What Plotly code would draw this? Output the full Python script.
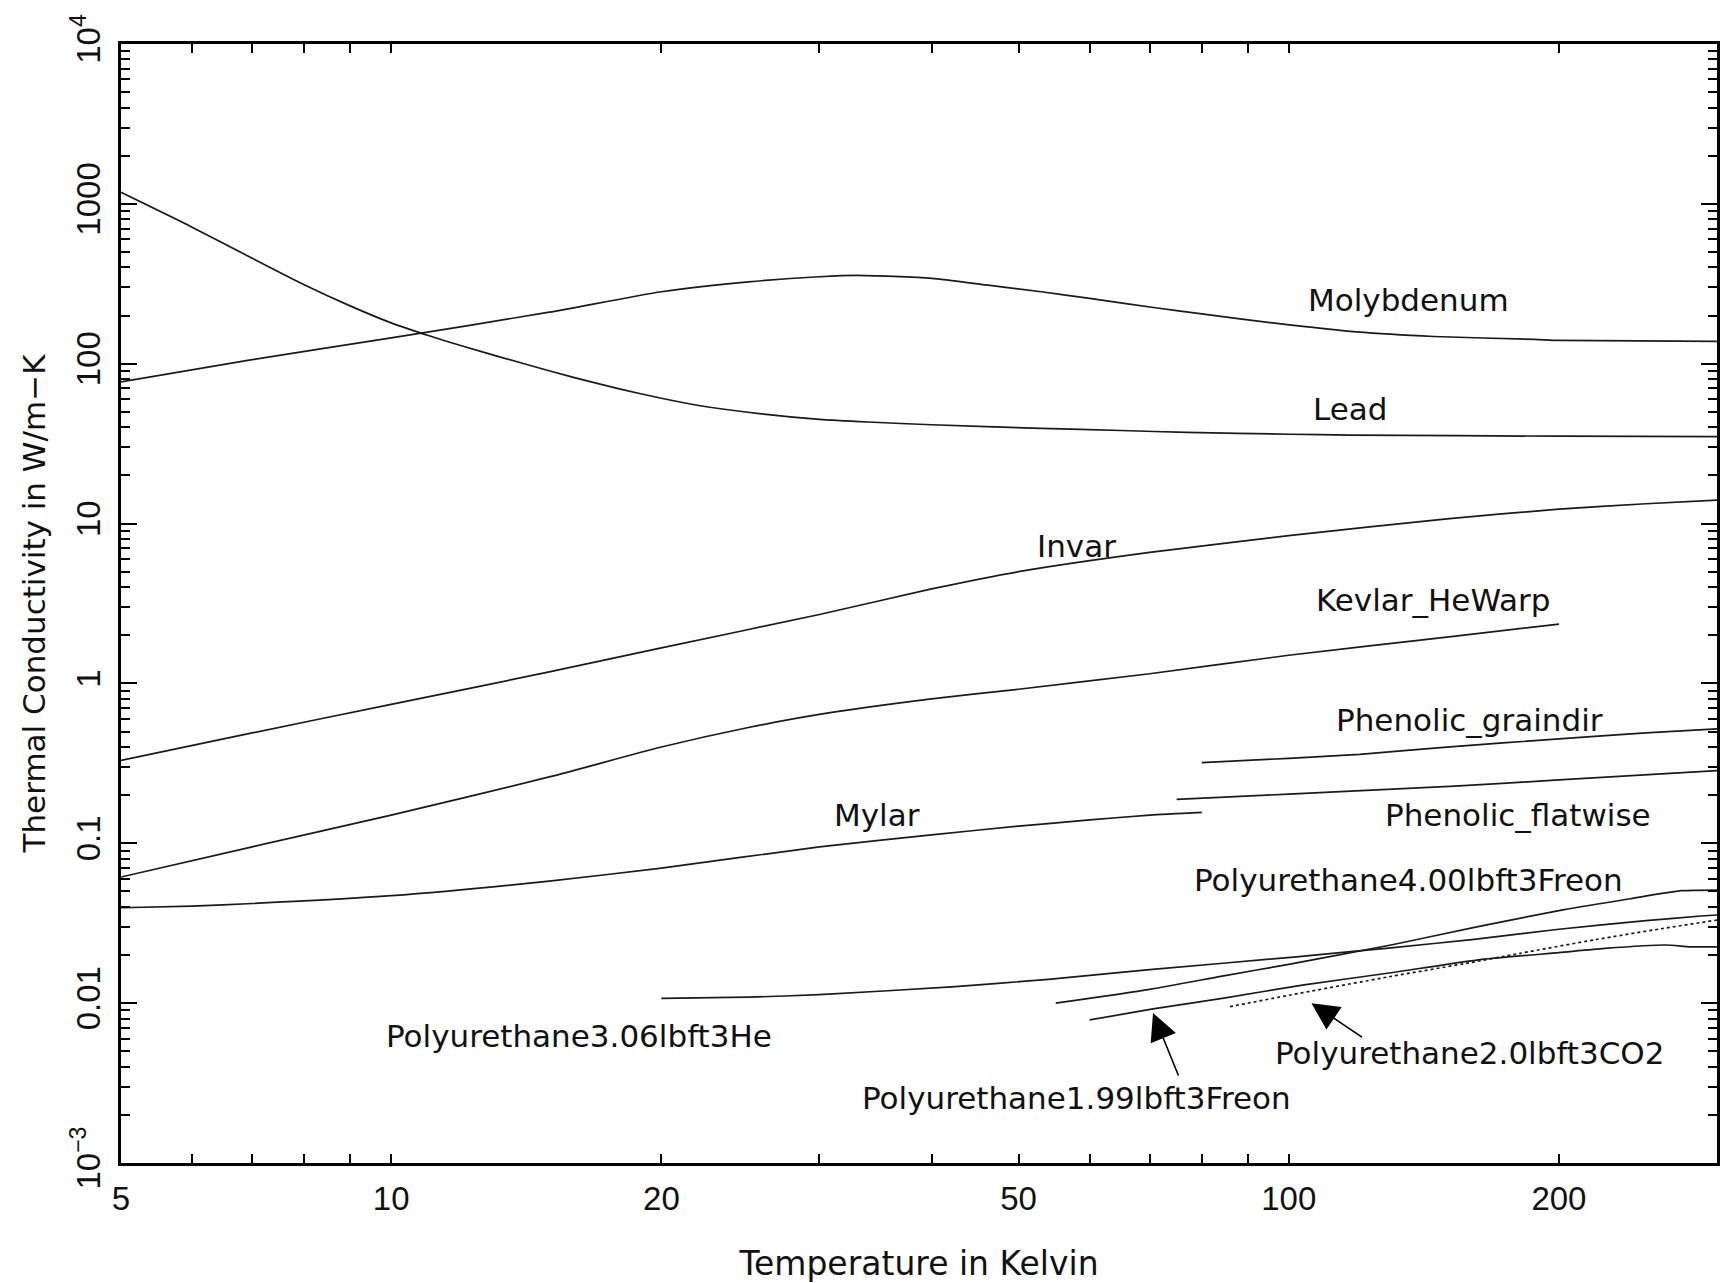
import numpy as np
import plotly.graph_objects as go

# ---------------- data ----------------
molybdenum_T = [5, 7, 10, 15, 20, 25, 30, 33, 40, 46, 53, 60, 71, 80, 96, 119, 145, 188, 200, 300]
molybdenum_k = [77, 106, 145, 210, 282, 325, 350, 357, 342, 311, 282, 256, 224, 205, 180, 158, 148, 142, 140, 138]

lead_T = [5, 6, 7, 8, 9, 10, 11, 12, 14, 16, 18, 20, 22, 26, 30, 34, 40, 53, 65, 77, 100, 117, 200, 300]
lead_k = [1180, 715, 457, 312, 230, 180, 150, 129, 100.6, 81.8, 69.4, 60.8, 54.8, 48.4, 44.9, 43.2, 41.5, 39.4, 38.2, 37.2, 36.2, 35.8, 35.2, 35.0]

invar_T = [5, 7, 10, 15, 20, 30, 40, 50, 70, 100, 150, 200, 250, 300]
invar_k = [0.33, 0.49, 0.74, 1.18, 1.67, 2.7, 3.9, 5.0, 6.6, 8.4, 10.7, 12.3, 13.3, 14.0]

kevlar_T = [5, 7, 10, 15, 20, 25, 30, 40, 50, 70, 100, 150, 200]
kevlar_k = [0.0615, 0.095, 0.15, 0.26, 0.40, 0.53, 0.64, 0.80, 0.92, 1.15, 1.5, 1.95, 2.35]

mylar_T = [5, 6, 7, 10, 15, 20, 30, 40, 50, 60, 70, 80]
mylar_k = [0.0395, 0.0405, 0.042, 0.047, 0.058, 0.070, 0.095, 0.113, 0.128, 0.140, 0.150, 0.156]

graindir_T = [80, 100, 120, 150, 200, 250, 300]
graindir_k = [0.32, 0.34, 0.36, 0.40, 0.45, 0.49, 0.52]

flatwise_T = [75, 100, 153, 200, 300]
flatwise_k = [0.188, 0.203, 0.228, 0.249, 0.285]

pu_he_T = [20, 25, 30, 42.5, 54, 70, 102, 130, 160, 200, 250, 290, 300]
pu_he_k = [0.0107, 0.0109, 0.0113, 0.0127, 0.0141, 0.0162, 0.0195, 0.0222, 0.0250, 0.0290, 0.0328, 0.0352, 0.0356]

pu_freon400_T = [55, 70, 84, 100, 130, 162, 202, 240, 274, 300]
pu_freon400_k = [0.0100, 0.0122, 0.0147, 0.0175, 0.0231, 0.0300, 0.0383, 0.0450, 0.0505, 0.0510]

pu_freon199_T = [60, 70.6, 85, 104, 130, 162, 200, 225, 263, 280, 300]
pu_freon199_k = [0.00785, 0.0092, 0.0108, 0.0130, 0.0155, 0.0186, 0.0207, 0.0220, 0.0231, 0.0225, 0.0225]

pu_co2_T = [86, 100, 130, 160, 181, 220, 260, 300]
pu_co2_k = [0.0095, 0.0112, 0.0147, 0.0180, 0.0205, 0.0250, 0.0292, 0.0331]

x_tick_vals = [5, 10, 20, 50, 100, 200]
x_tick_text = ["5", "10", "20", "50", "100", "200"]
y_tick_vals = [1e-3, 1e-2, 1e-1, 1, 10, 100, 1000, 1e4]
y_tick_text = ["10<sup>\u22123</sup>", "0.01", "0.1", "1", "10", "100", "1000", "10<sup>4</sup>"]

series = [
    (molybdenum_T, molybdenum_k, "Molybdenum", "solid"),
    (lead_T, lead_k, "Lead", "solid"),
    (invar_T, invar_k, "Invar", "solid"),
    (kevlar_T, kevlar_k, "Kevlar_HeWarp", "solid"),
    (mylar_T, mylar_k, "Mylar", "solid"),
    (graindir_T, graindir_k, "Phenolic_graindir", "solid"),
    (flatwise_T, flatwise_k, "Phenolic_flatwise", "solid"),
    (pu_he_T, pu_he_k, "Polyurethane3.06lbft3He", "solid"),
    (pu_freon400_T, pu_freon400_k, "Polyurethane4.00lbft3Freon", "solid"),
    (pu_freon199_T, pu_freon199_k, "Polyurethane1.99lbft3Freon", "solid"),
    (pu_co2_T, pu_co2_k, "Polyurethane2.0lbft3CO2", "dot"),
]

# label positions (data coordinates)
labels = [
    ("Molybdenum", 136, 250),
    ("Lead", 117, 52),
    ("Invar", 58, 7.2),
    ("Kevlar_HeWarp", 145, 3.33),
    ("Phenolic_graindir", 159, 0.59),
    ("Phenolic_flatwise", 180, 0.150),
    ("Mylar", 34.8, 0.150),
    ("Polyurethane4.00lbft3Freon", 136, 0.059),
    ("Polyurethane3.06lbft3He", 16.2, 0.0062),
    ("Polyurethane2.0lbft3CO2", 159, 0.0049),
    ("Polyurethane1.99lbft3Freon", 58, 0.00255),
]
# arrows: head point (data) and tail offset in pixels
arrows = [
    (70.6, 0.00868, 26, 64),
    (106.0, 0.0100, 52, 35),
]

LABEL_FONT = "DejaVu Sans"
TICK_FONT = "Liberation Sans"

fig = go.Figure()
for T, k, name, dash in series:
    fig.add_trace(go.Scatter(
        x=T, y=k, mode="lines", name=name, showlegend=False,
        line=dict(color="#1a1a1a", width=1.7, dash=dash, shape="spline", smoothing=0.6),
    ))

annotations = []
for text, xv, yv in labels:
    annotations.append(dict(
        x=np.log10(xv), y=np.log10(yv), xref="x", yref="y", text=text,
        showarrow=False, xanchor="center", yanchor="middle",
        font=dict(family=LABEL_FONT, size=31, color="#111111", weight=400),
    ))
for xv, yv, ax, ay in arrows:
    annotations.append(dict(
        x=np.log10(xv), y=np.log10(yv), xref="x", yref="y", text="",
        showarrow=True, arrowhead=2, arrowsize=3.4, arrowwidth=1.6,
        arrowcolor="black", ax=ax, ay=ay, standoff=0,
    ))

x_minor = [6, 7, 8, 9, 30, 40, 60, 70, 80, 90, 300]
y_minor = [m * 10.0 ** e for e in range(-3, 4) for m in range(2, 10)]

fig.update_layout(
    width=1723, height=1283,
    margin=dict(l=121, r=3, t=44, b=120),
    paper_bgcolor="white", plot_bgcolor="white",
    font=dict(family=TICK_FONT, size=26, color="black"),
    annotations=annotations,
    xaxis=dict(
        type="log", range=[np.log10(5), np.log10(300)],
        tickmode="array", tickvals=x_tick_vals, ticktext=x_tick_text,
        ticks="inside", ticklen=9, tickwidth=2, tickcolor="black",
        showline=True, linewidth=2.5, linecolor="black", mirror="ticks",
        showgrid=False, zeroline=False, ticklabelstandoff=5,
        tickfont=dict(family=TICK_FONT, size=33, weight=400, color="#111111"),
        title=dict(text="Temperature in Kelvin", standoff=40,
                   font=dict(family=LABEL_FONT, size=33, weight=400, color="#111111")),
        minor=dict(tickmode="array", tickvals=x_minor, ticks="inside", ticklen=9,
                   tickwidth=2, tickcolor="black", showgrid=False),
    ),
    xaxis2=dict(
        type="log", range=[np.log10(5), np.log10(300)], overlaying="x", anchor="y", side="bottom",
        tickmode="array", tickvals=[10, 100], ticks="inside", ticklen=16, tickwidth=2,
        tickcolor="black", showticklabels=False, showline=True, linewidth=2.5,
        linecolor="black", mirror="ticks", showgrid=False, zeroline=False,
    ),
    yaxis=dict(
        type="log", range=[-3, 4],
        tickmode="array", tickvals=y_tick_vals, ticktext=y_tick_text, tickangle=-90,
        ticks="inside", ticklen=16, tickwidth=2, tickcolor="black",
        showline=True, linewidth=2.5, linecolor="black", mirror="ticks",
        showgrid=False, zeroline=False, ticklabelstandoff=5,
        tickfont=dict(family=TICK_FONT, size=33, weight=400, color="#111111"),
        title=dict(text="Thermal Conductivity in W/m\u2212K", standoff=11,
                   font=dict(family=LABEL_FONT, size=31, weight=400, color="#111111")),
        minor=dict(tickmode="array", tickvals=y_minor, ticks="inside", ticklen=9,
                   tickwidth=2, tickcolor="black", showgrid=False),
    ),
)

fig.write_html("out.html")
